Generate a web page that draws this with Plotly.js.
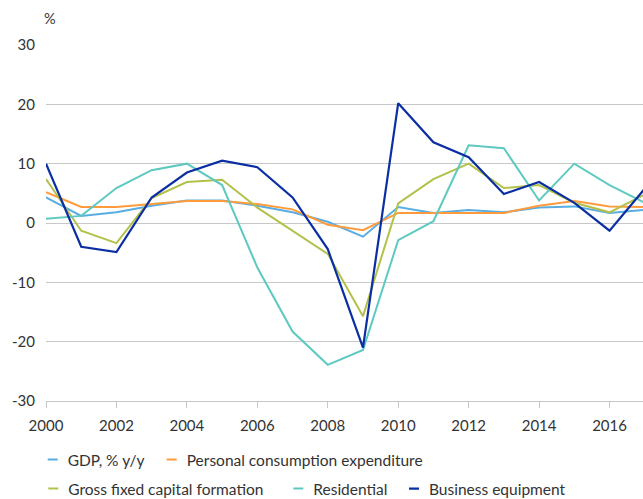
<!DOCTYPE html>
<html>
<head>
<meta charset="utf-8">
<script src="https://cdn.plot.ly/plotly-3.0.1.min.js"></script>
<style>
html, body { margin: 0; padding: 0; background: #fff; }
#chart { width: 643px; height: 499px; }
.legendlines path { stroke-dasharray: 0 20 10 1000 !important; transform: translateX(-5px); }
</style>
</head>
<body>
<div id="chart"></div>
<script>
const years = [2000, 2001, 2002, 2003, 2004, 2005, 2006, 2007, 2008, 2009, 2010, 2011, 2012, 2013, 2014, 2015, 2016, 2017];
const gdp = [4.3, 1.2, 1.8, 2.9, 3.8, 3.8, 2.9, 1.8, 0.2, -2.3, 2.7, 1.7, 2.2, 1.8, 2.6, 2.8, 1.7, 2.2];
const pce = [5.2, 2.7, 2.7, 3.2, 3.7, 3.7, 3.2, 2.3, -0.3, -1.2, 1.7, 1.7, 1.7, 1.7, 2.9, 3.7, 2.8, 2.7];
const gfcf = [7.4, -1.3, -3.4, 4.2, 6.9, 7.3, 2.6, -1.3, -5.2, -15.7, 3.3, 7.4, 10.0, 5.9, 6.4, 3.4, 1.8, 4.8];
const residential = [0.7, 1.2, 5.9, 8.9, 10.0, 6.4, -7.5, -18.3, -23.9, -21.4, -2.9, 0.3, 13.1, 12.6, 3.8, 10.0, 6.4, 3.4];
const business = [10.0, -4.0, -4.9, 4.3, 8.5, 10.5, 9.4, 4.3, -4.4, -21.0, 20.2, 13.6, 11.1, 4.9, 6.9, 3.4, -1.3, 5.8];
const seriesNames = ["GDP, % y/y", "Personal consumption expenditure", "Gross fixed capital formation", "Residential", "Business equipment"];
const xTicks = [2000, 2002, 2004, 2006, 2008, 2010, 2012, 2014, 2016];
const yTicks = [-30, -20, -10, 0, 10, 20, 30];

const colors = ["#5aade2", "#ff9b3d", "#b3c14b", "#5ec9c1", "#0b2fa3"];
const values = [gdp, pce, gfcf, residential, business];
const legendIds = ["legend", "legend2", "legend3", "legend4", "legend5"];

const traces = values.map((v, i) => ({
  type: "scatter",
  mode: "lines",
  x: years,
  y: v,
  name: seriesNames[i],
  line: { color: colors[i], width: i === 4 ? 2.2 : 2 },
  legend: legendIds[i],
  hoverinfo: "skip"
}));

const plotLeft = 46, plotW = 597, plotBottom = 401, plotH = 356;
function px2x(px) { return (px - plotLeft) / plotW; }
function py2y(py) { return (plotBottom - py) / plotH; }

const fontFam = "Lato, 'Open Sans', sans-serif";
const legendFont = { family: fontFam, size: 15.5, color: "#333" };
function mkLegend(textX, rowY) {
  return {
    x: px2x(textX - 40), y: py2y(rowY), xanchor: "left", yanchor: "middle",
    orientation: "h", font: legendFont, bgcolor: "rgba(0,0,0,0)",
    borderwidth: 0, itemwidth: 30, tracegroupgap: 0, itemclick: false, itemdoubleclick: false
  };
}

const layout = {
  width: 643, height: 499,
  margin: { l: 46, r: 0, t: 45, b: 98, pad: 0, autoexpand: false },
  paper_bgcolor: "#fff", plot_bgcolor: "#fff",
  font: { family: fontFam, size: 15, color: "#333" },
  showlegend: true,
  xaxis: {
    range: [2000, 2016.95], tickvals: xTicks, ticktext: xTicks.map(String),
    showgrid: false, zeroline: false, showline: true, linecolor: "#c8c8c8", linewidth: 1,
    ticks: "outside", ticklen: 6, tickcolor: "#c8c8c8", tickwidth: 1, ticklabelstandoff: 5,
    tickfont: { size: 15, color: "#333" }, fixedrange: true, automargin: false
  },
  yaxis: {
    range: [-30, 30], tickvals: yTicks, ticktext: yTicks.map(String),
    showgrid: true, gridcolor: "#c8c8c8", gridwidth: 1, zeroline: false,
    showline: false, ticks: "", ticklabelstandoff: 10,
    tickfont: { size: 15, color: "#333" }, fixedrange: true, automargin: false
  },
  legend: mkLegend(67.7, 460),
  legend2: mkLegend(186.7, 460),
  legend3: mkLegend(68.3, 489),
  legend4: mkLegend(313.3, 489),
  legend5: mkLegend(429, 489),
  annotations: [{
    text: "%", xref: "paper", yref: "paper", x: px2x(50), y: py2y(18.5),
    xanchor: "center", yanchor: "middle", showarrow: false,
    font: { size: 14.5, color: "#333" }
  }]
};

Plotly.newPlot("chart", traces, layout, { staticPlot: true, displayModeBar: false });
</script>
</body>
</html>
